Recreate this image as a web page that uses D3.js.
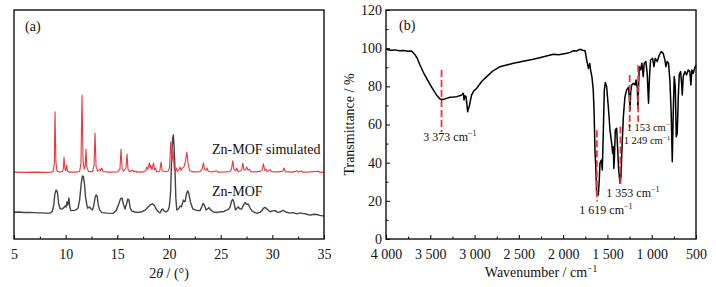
<!DOCTYPE html>
<html>
<head>
<meta charset="utf-8">
<script src="https://cdn.jsdelivr.net/npm/d3@7"></script>
<style>
  body { margin: 0; background: #fff; }
  svg text { font-family: "Liberation Serif", "Times New Roman", serif; fill: #111; }
</style>
</head>
<body>
<div id="chart"></div>
<script>
// ---- panel (a) XRD data: [2theta, intensity (a.u.)] ----
const xrdTicks = [5, 10, 15, 20, 25, 30, 35];
const xrdMinor = [7.5, 12.5, 17.5, 22.5, 27.5, 32.5];

const simulated = [
  [5,29.2],[6,29.1],[7,29.2],[8,29.1],[8.6,29.2],[8.8,29.5],[8.9,33],[8.97,55.6],[9.05,34],[9.15,29.8],
  [9.3,29.3],[9.7,29.4],[9.78,31],[9.84,35.8],[9.92,31],[10.0,29.8],[10.1,32.3],[10.18,29.6],[10.4,29.2],
  [11.0,29.2],[11.35,29.5],[11.48,33],[11.58,62.9],[11.68,34],[11.8,30.5],[11.9,32],[11.97,39.3],[12.05,31.5],
  [12.2,29.5],[12.6,29.4],[12.74,32],[12.84,46.3],[12.94,31.5],[13.1,29.6],[13.3,30.5],[13.38,29.9],[13.5,31.0],
  [13.62,29.5],[14.2,29.2],[15.0,29.3],[15.25,30.5],[15.36,39.3],[15.46,30.8],[15.6,29.6],[15.84,31],[15.94,37.1],
  [16.04,30.3],[16.2,29.4],[16.5,30.1],[16.6,29.3],[16.8,29.7],[16.9,29.2],[17.5,29.3],[17.75,29.8],[17.85,31.4],
  [17.95,30.5],[18.1,33.2],[18.18,31],[18.23,32.3],[18.35,30.3],[18.5,33.2],[18.6,30.2],[18.7,31.0],[18.8,29.4],
  [19.1,29.6],[19.23,33.6],[19.33,29.8],[19.6,29.4],[19.9,29.6],[20.05,31],[20.17,42.4],[20.28,34],[20.4,38.5],
  [20.5,31],[20.6,29.6],[20.7,31.0],[20.8,29.5],[20.95,30.2],[21.07,31.4],[21.17,30],[21.3,31],[21.45,31.5],
  [21.6,34],[21.72,38.0],[21.85,33],[22.0,29.8],[22.4,29.3],[23.0,29.4],[23.2,30.5],[23.33,33.2],[23.45,30.3],
  [23.6,30],[23.7,31.0],[23.8,29.5],[24.2,29.3],[24.6,29.8],[24.7,29.2],[25.5,29.3],[25.9,29.5],[26.05,30.5],
  [26.17,34.1],[26.28,30.5],[26.45,29.8],[26.56,31.0],[26.68,29.5],[26.95,29.8],[27.05,30.5],[27.14,33.2],
  [27.25,30.2],[27.4,30.3],[27.53,31.4],[27.65,30],[27.8,30.4],[27.9,29.4],[28.5,29.3],[29.0,29.8],[29.14,32.8],
  [29.26,30],[29.4,30.5],[29.5,29.5],[29.8,30.3],[29.9,29.4],[30.5,29.3],[31.0,29.6],[31.13,31.0],[31.25,29.4],
  [32.0,29.2],[32.4,29.8],[32.5,29.2],[32.8,29.8],[32.9,29.2],[33.6,29.3],[34.5,29.6],[34.6,29.1],[35,29.2]
];

const measured = [
  [5,11.7],[5.5,11.8],[6,11.6],[6.5,11.6],[7,11.5],[7.5,11.4],[8,11.3],[8.5,11.3],[8.7,12],[8.85,15],[8.95,19.5],
  [9.07,21.4],[9.15,21.0],[9.22,19.8],[9.32,15.5],[9.45,13.3],[9.6,13.0],[9.8,13.6],[9.94,14.4],[10.05,14.0],
  [10.12,16.2],[10.2,14.8],[10.32,17.9],[10.4,14],[10.5,12.4],[10.8,12.5],[11.0,12.7],[11.2,13.5],[11.35,17],
  [11.5,24],[11.62,27.5],[11.72,27.3],[11.82,24],[11.92,18.5],[11.97,17.0],[12.05,15],[12.12,13.5],[12.3,14.0],
  [12.45,13.2],[12.6,12.7],[12.72,14.5],[12.84,18],[12.95,19.2],[13.05,18.8],[13.15,15],[13.28,12.7],[13.5,11.5],
  [14.0,11.3],[14.6,11.2],[14.9,12.5],[15.1,14.8],[15.3,17.5],[15.45,17.9],[15.6,15],[15.74,13.1],[15.9,15.5],
  [16.02,17.5],[16.12,17.0],[16.25,13.5],[16.4,12.2],[16.7,11.8],[17.0,11.6],[17.36,11.9],[17.7,12.6],[18.0,14.1],
  [18.2,15.0],[18.43,15.3],[18.6,14.5],[18.8,12.7],[19.0,11.8],[19.13,11.4],[19.3,12.8],[19.39,13.1],[19.5,12.4],
  [19.7,11.8],[19.9,12.5],[20.03,14.1],[20.15,20],[20.26,35.8],[20.35,44],[20.42,45.4],[20.5,40],[20.58,30],
  [20.66,18],[20.75,12.7],[20.9,13.0],[21.07,14.4],[21.2,14.0],[21.4,17.0],[21.5,16.3],[21.58,16.5],[21.68,19.5],
  [21.8,21.0],[21.9,20.3],[22.0,18],[22.1,15.7],[22.3,13.2],[22.5,12.7],[22.8,12.4],[23.0,12.4],[23.15,13.8],
  [23.3,15.6],[23.42,14.8],[23.59,12.7],[23.75,13.2],[23.88,13.7],[24.0,12.8],[24.3,11.8],[24.7,11.6],[25.0,11.9],
  [25.26,11.9],[25.5,12.5],[25.7,12.8],[25.9,13.8],[26.05,16.5],[26.17,17.3],[26.28,16.0],[26.43,12.7],[26.55,13.3],
  [26.7,14.0],[26.85,13.2],[27.04,13.1],[27.2,14.8],[27.36,15.9],[27.5,15.2],[27.68,15.2],[27.85,13.5],[28.0,12.4],
  [28.2,11.8],[28.5,11.2],[28.8,11.6],[29.0,12.4],[29.15,13.5],[29.3,13.8],[29.5,13.0],[29.8,11.9],[30.0,12.3],
  [30.3,12.4],[30.5,11.6],[30.8,11.9],[31.0,12.5],[31.1,12.4],[31.3,11.8],[31.7,11.3],[32.0,11.5],[32.4,11.0],
  [32.7,11.4],[32.9,11.2],[33.2,11.0],[33.5,10.6],[33.7,10.5],[34.0,10.8],[34.3,10.7],[34.6,10.3],[35,10.0]
];

// ---- panel (b) FT-IR data: [wavenumber, transmittance %] ----
const irXTicks = [4000, 3500, 3000, 2500, 2000, 1500, 1000, 500];
const irXMinor = [3750, 3250, 2750, 2250, 1750, 1250, 750];
const irYTicks = [0, 20, 40, 60, 80, 100, 120];
const irYMinor = [10, 30, 50, 70, 90, 110];

const ftir = [
  [4000,99.4],[3950,98.9],[3900,99.1],[3850,98.6],[3800,98.8],[3750,98.4],[3710,98.5],[3680,97],[3650,95],
  [3616,91.2],[3580,87.5],[3541,84.2],[3500,80.8],[3466,78.1],[3430,75.5],[3390,73.4],[3353,73.1],[3310,73.8],
  [3277,74.3],[3240,74.4],[3202,74.6],[3160,75.2],[3145,75.5],[3127,76.4],[3119,72.9],[3108,75],[3097,74.6],
  [3085,70],[3078,66.7],[3068,68.5],[3059,69.7],[3045,73],[3033,75.5],[3010,77.5],[2976,79],[2920,82.5],
  [2863,85.1],[2800,87.8],[2713,90.3],[2650,91.0],[2562,92.1],[2450,93.2],[2337,94.2],[2220,95.5],[2111,96.8],
  [2050,96.5],[1960,97.3],[1920,97.8],[1885,98.7],[1850,98.5],[1810,99.4],[1780,98.9],[1753,98.7],[1734,93.8],
  [1715,89.4],[1700,92],[1690,88.5],[1675,85],[1660,78],[1650,65.9],[1640,45],[1633,39.7],[1622,24],[1612,23.5],
  [1603,23.1],[1592,30.9],[1584,39.8],[1569,41.4],[1558,36.2],[1546,57.1],[1535,78.1],[1524,82],[1509,79.9],
  [1490,69.3],[1471,57.1],[1452,50.1],[1441,44.9],[1433,48.4],[1428,37],[1422,41.4],[1411,57.1],[1396,58],
  [1384,46.6],[1373,36.2],[1358,29.2],[1347,32.7],[1335,48.4],[1320,64.1],[1302,74.6],[1283,78.1],[1264,79.5],
  [1253,74.6],[1245,67.6],[1237,77.2],[1226,80.7],[1207,81.6],[1188,80.7],[1177,83.3],[1162,79],[1156,68.5],
  [1149,79],[1141,90.3],[1126,88.6],[1111,92.1],[1096,85.1],[1085,92.1],[1066,93],[1051,86.8],[1036,71.1],
  [1025,85.1],[1013,93.8],[990,94.7],[975,90.3],[960,94.7],[938,93],[915,96.4],[893,98.2],[870,97.3],[851,93.8],
  [840,90.3],[825,93],[810,92.1],[795,83.3],[780,65.9],[768,40.5],[757,65.9],[746,85.1],[734,79.9],[723,53.6],
  [712,55.4],[700,74.6],[689,86],[674,87.7],[663,81.6],[655,75.5],[644,85.1],[625,87.7],[606,86],[588,88.6],
  [569,87.7],[558,80.7],[546,88.6],[531,86.8],[516,89.4],[500,91.2]
];

// marked bands: wavenumber, dash from / to (% T)
const bandWn   = [3373, 1619, 1353, 1249, 1153];
const bandTop  = [88.6, 57, 59, 86, 91];
const bandBot  = [56, 19.6, 28.3, 58.5, 61.5];
const bandText = ['3 373', '1 619', '1 353', '1 249', '1 153'];

const width = 716;
const height = 287;
const red = '#e8383d';

const svg = d3.select('#chart')
  .append('svg')
  .attr('width', width)
  .attr('height', height);

// ================= panel (a) =================
const boxA = { left: 14, right: 324, top: 10, bottom: 239 };

const xA = d3.scaleLinear().domain([5, 35]).range([boxA.left, boxA.right]);
const yA = d3.scaleLinear().domain([0, 100]).range([boxA.bottom, boxA.top]);

const lineA = d3.line().x(d => xA(d[0])).y(d => yA(d[1]));

svg.append('path')
  .datum(measured)
  .attr('fill', 'none')
  .attr('stroke', '#444')
  .attr('stroke-width', 1.4)
  .attr('stroke-linejoin', 'round')
  .attr('d', lineA);

svg.append('path')
  .datum(simulated)
  .attr('fill', 'none')
  .attr('stroke', red)
  .attr('stroke-width', 1.1)
  .attr('stroke-linejoin', 'round')
  .attr('d', lineA);

const axA = svg.append('g')
  .attr('transform', `translate(0, ${boxA.bottom})`)
  .call(d3.axisBottom(xA).tickValues(xrdTicks).tickSize(-4).tickPadding(10));
axA.select('.domain').remove();
axA.selectAll('text').style('font-size', '14px');

const axAm = svg.append('g')
  .attr('transform', `translate(0, ${boxA.bottom})`)
  .call(d3.axisBottom(xA).tickValues(xrdMinor).tickSize(-2.5).tickFormat(''));
axAm.select('.domain').remove();

svg.append('rect')
  .attr('x', boxA.left).attr('y', boxA.top)
  .attr('width', boxA.right - boxA.left).attr('height', boxA.bottom - boxA.top)
  .attr('fill', 'none').attr('stroke', '#111').attr('stroke-width', 1.4);

svg.append('text').attr('x', 25).attr('y', 31).style('font-size', '14px').text('(a)');
svg.append('text').attr('x', 212).attr('y', 154).style('font-size', '14px').text('Zn-MOF simulated');
svg.append('text').attr('x', 212).attr('y', 196).style('font-size', '14px').text('Zn-MOF');

const tA = svg.append('text')
  .attr('x', (boxA.left + boxA.right) / 2)
  .attr('y', 278)
  .style('font-size', '14px')
  .style('text-anchor', 'middle');
tA.append('tspan').text('2');
tA.append('tspan').style('font-style', 'italic').text('θ');
tA.append('tspan').text(' / (°)');

// ================= panel (b) =================
const boxB = { left: 386, right: 696, top: 10, bottom: 239 };

const xB = d3.scaleLinear().domain([4000, 500]).range([boxB.left, boxB.right]);
const yB = d3.scaleLinear().domain([0, 120]).range([boxB.bottom, boxB.top]);

const spaced = d3.formatLocale({ decimal: '.', thousands: ' ', grouping: [3], currency: ['', ''] }).format(',');

svg.append('path')
  .datum(ftir)
  .attr('fill', 'none')
  .attr('stroke', '#000')
  .attr('stroke-width', 1.5)
  .attr('stroke-linejoin', 'round')
  .attr('d', d3.line().x(d => xB(d[0])).y(d => yB(d[1])));

// dashed band markers
svg.selectAll('.band')
  .data(bandWn)
  .enter()
  .append('line')
  .attr('class', 'band')
  .attr('x1', d => xB(d)).attr('x2', d => xB(d))
  .attr('y1', (d, i) => yB(bandTop[i]))
  .attr('y2', (d, i) => yB(bandBot[i]))
  .attr('stroke', red)
  .attr('stroke-width', 1.8)
  .attr('stroke-dasharray', '7,3');

const axBx = svg.append('g')
  .attr('transform', `translate(0, ${boxB.bottom})`)
  .call(d3.axisBottom(xB).tickValues(irXTicks).tickSize(-4).tickPadding(10).tickFormat(spaced));
axBx.select('.domain').remove();
axBx.selectAll('text').style('font-size', '14px');

const axBxm = svg.append('g')
  .attr('transform', `translate(0, ${boxB.bottom})`)
  .call(d3.axisBottom(xB).tickValues(irXMinor).tickSize(-2.5).tickFormat(''));
axBxm.select('.domain').remove();

const axBy = svg.append('g')
  .attr('transform', `translate(${boxB.left}, 0)`)
  .call(d3.axisLeft(yB).tickValues(irYTicks).tickSize(-4).tickPadding(4));
axBy.select('.domain').remove();
axBy.selectAll('text').style('font-size', '14px');

const axBym = svg.append('g')
  .attr('transform', `translate(${boxB.left}, 0)`)
  .call(d3.axisLeft(yB).tickValues(irYMinor).tickSize(-2.5).tickFormat(''));
axBym.select('.domain').remove();

svg.append('rect')
  .attr('x', boxB.left).attr('y', boxB.top)
  .attr('width', boxB.right - boxB.left).attr('height', boxB.bottom - boxB.top)
  .attr('fill', 'none').attr('stroke', '#111').attr('stroke-width', 1.4);

svg.append('text').attr('x', 399).attr('y', 30).style('font-size', '14px').text('(b)');

// band labels (cm^-1 with superscript)
const labelPos = [
  { x: 450, y: 141, size: 12 },
  { x: 606, y: 214, size: 12 },
  { x: 633, y: 197, size: 12 },
  { x: 647, y: 144, size: 10.5 },
  { x: 650, y: 131, size: 10.5 }
];
bandText.forEach((t, i) => {
  const p = labelPos[i];
  const txt = svg.append('text')
    .attr('x', p.x).attr('y', p.y)
    .style('font-size', p.size + 'px')
    .style('text-anchor', 'middle');
  txt.append('tspan').text(t + ' cm');
  txt.append('tspan').attr('dy', -p.size * 0.38).style('font-size', (p.size * 0.68) + 'px').text('−1');
});

// axis titles
const tBx = svg.append('text')
  .attr('x', (boxB.left + boxB.right) / 2)
  .attr('y', 277)
  .style('font-size', '14px')
  .style('text-anchor', 'middle');
tBx.append('tspan').text('Wavenumber / cm');
tBx.append('tspan').attr('dy', -5).style('font-size', '9.5px').text('−1');

svg.append('text')
  .attr('transform', `translate(354, ${(boxB.top + boxB.bottom) / 2}) rotate(-90)`)
  .style('font-size', '14px')
  .style('text-anchor', 'middle')
  .text('Transmittance / %');
</script>
</body>
</html>
